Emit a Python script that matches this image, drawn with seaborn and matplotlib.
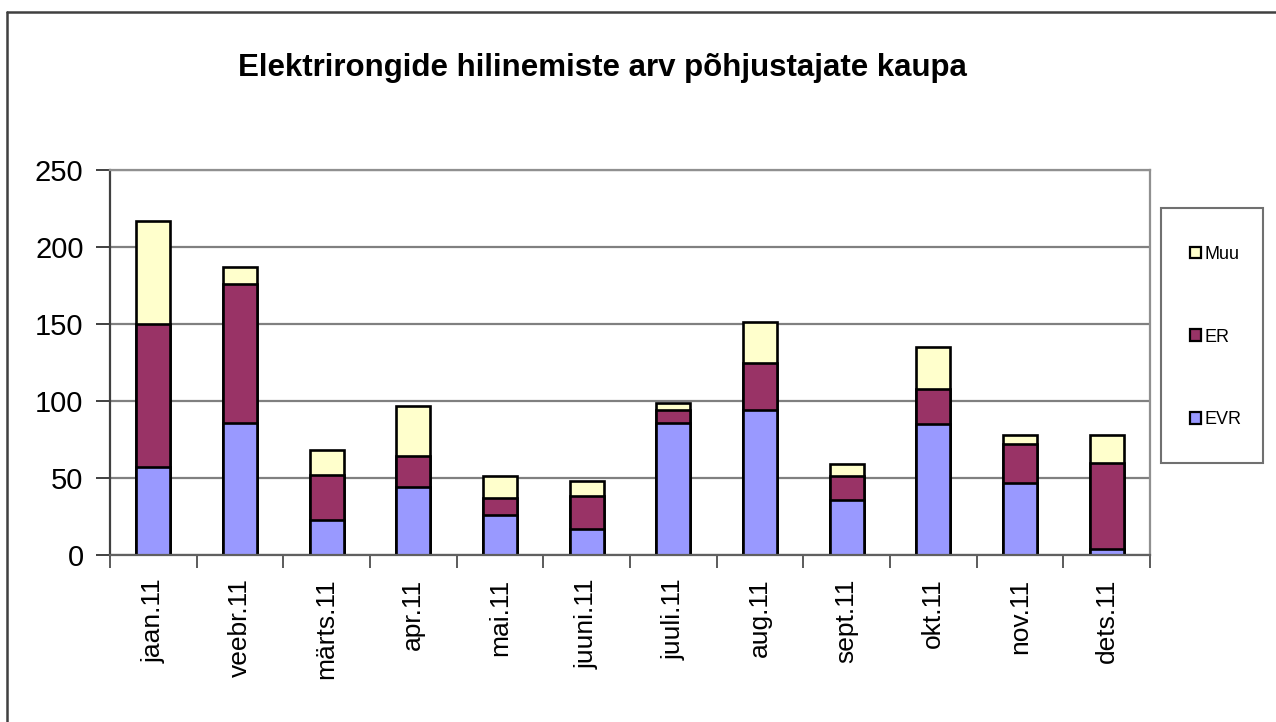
#! /usr/bin/env python3

import numpy as np
import pandas as pd

import matplotlib
matplotlib.use('Agg')
import matplotlib.pyplot as plt
import matplotlib.patches as patches
from matplotlib import font_manager
from matplotlib.lines import Line2D

import seaborn as sns

# monthly delays by cause
months = ['jaan.11', 'veebr.11', 'märts.11', 'apr.11', 'mai.11', 'juuni.11',
          'juuli.11', 'aug.11', 'sept.11', 'okt.11', 'nov.11', 'dets.11']
evr = [57, 86, 23, 44, 26, 17, 86, 94, 36, 85, 47, 4]
er = [93, 90, 29, 20, 11, 21, 8, 31, 15, 23, 25, 56]
muu = [67, 11, 16, 33, 14, 10, 5, 26, 8, 27, 6, 18]

series_names = ['Muu', 'ER', 'EVR']
colors = {'EVR': '#9999FF', 'ER': '#993366', 'Muu': '#FFFFCC'}


if __name__ == '__main__':

    sns.set_style('white')
    names = {f.name for f in font_manager.fontManager.ttflist}
    base_font = 'Liberation Sans' if 'Liberation Sans' in names else 'DejaVu Sans'
    title_font = 'Liberation Sans Narrow' if 'Liberation Sans Narrow' in names else base_font
    plt.rcParams['font.family'] = [base_font, 'DejaVu Sans']
    plt.rcParams['text.color'] = 'black'
    plt.rcParams['xtick.labelcolor'] = 'black'
    plt.rcParams['ytick.labelcolor'] = 'black'

    df = pd.DataFrame({'kuu': months, 'EVR': evr, 'ER': er, 'Muu': muu})
    df['ER_cum'] = df['EVR'] + df['ER']
    df['Muu_cum'] = df['ER_cum'] + df['Muu']

    fig = plt.figure(figsize=(12.76, 7.22), dpi=100)
    ax = fig.add_axes([110 / 1276, 1 - 555 / 722, 1040 / 1276, 385 / 722])

    # stacked bars: draw totals first, then cover from below
    for col, name in [('Muu_cum', 'Muu'), ('ER_cum', 'ER'), ('EVR', 'EVR')]:
        sns.barplot(data=df, x='kuu', y=col, color=colors[name], saturation=1,
                    width=0.39, edgecolor='black', linewidth=1.9, ax=ax)

    ax.set_ylim(0, 250)
    ax.set_xlim(-0.5, len(months) - 0.5)
    ax.set_yticks(np.arange(0, 251, 50))
    ax.set_xlabel('')
    ax.set_ylabel('')

    ax.set_axisbelow(True)
    ax.yaxis.grid(True, color='#808080', linewidth=1.6)
    for side in ['top', 'right', 'bottom']:
        ax.spines[side].set_color('#909090')
        ax.spines[side].set_linewidth(1.6)
    ax.spines['left'].set_color('#404040')
    ax.spines['left'].set_linewidth(1.6)
    ax.spines['bottom'].set_color('#606060')

    ax.tick_params(axis='y', length=10, width=1.4, color='#404040',
                   labelsize=21, pad=9, left=True)
    ax.set_xticks(range(len(months)))
    ax.set_xticklabels(months, rotation=90, fontsize=19)
    ax.tick_params(axis='x', which='major', length=0, pad=17)
    ax.set_xticks(np.arange(-0.5, len(months), 1), minor=True)
    ax.tick_params(axis='x', which='minor', length=9, width=1.2,
                   color='#404040', bottom=True)

    fig.text(602 / 1276, 1 - 68 / 722,
             'Elektrirongide hilinemiste arv põhjustajate kaupa',
             ha='center', va='center', fontsize=22.5, fontweight='bold',
             family=[title_font, 'DejaVu Sans'])

    # legend box
    fig.patches.append(patches.Rectangle(
        (1161 / 1276, 1 - 463 / 722), 102 / 1276, 255 / 722,
        transform=fig.transFigure, facecolor='white', edgecolor='#707070',
        linewidth=1.5))
    handles = [patches.Patch(facecolor=colors[n], edgecolor='black', linewidth=1.6,
                             label=n) for n in series_names]
    fig.legend(handles=handles, loc='center left',
               bbox_to_anchor=(1183 / 1276, 1 - 337 / 722),
               frameon=False, fontsize=13, handlelength=0.6, handleheight=0.6,
               handletextpad=0.2, labelspacing=3.65, borderaxespad=0)

    # outer chart border
    fig.add_artist(Line2D([7 / 1276, 7 / 1276], [0, 1 - 12 / 722],
                          transform=fig.transFigure, color='#404040', linewidth=1.8))
    fig.add_artist(Line2D([7 / 1276, 1], [1 - 12 / 722, 1 - 12 / 722],
                          transform=fig.transFigure, color='#404040', linewidth=1.8))

    fig.savefig('out.png', dpi=100)
